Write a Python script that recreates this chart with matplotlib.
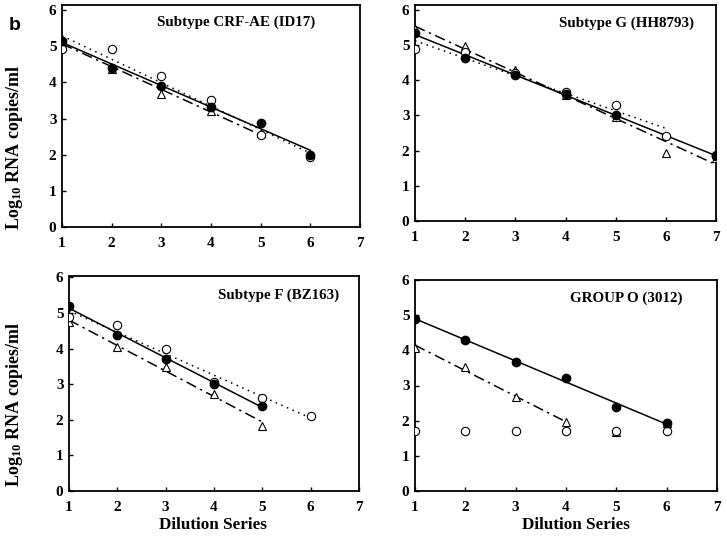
import numpy as np
import matplotlib
matplotlib.use("Agg")
import matplotlib.pyplot as plt

plt.rcParams['font.family'] = ['Liberation Serif', 'DejaVu Serif']
plt.rcParams['font.weight'] = 'bold'
plt.rcParams['mathtext.fontset'] = 'custom'
plt.rcParams['mathtext.rm'] = 'Liberation Serif:bold'
plt.rcParams['mathtext.default'] = 'rm'

# ---- data ----
titles = ["Subtype CRF-AE (ID17)", "Subtype G (HH8793)", "Subtype F (BZ163)", "GROUP O (3012)"]

# filled circles
ae_filled_x = [1, 2, 3, 4, 5, 6]
ae_filled_y = [5.15, 4.41, 3.90, 3.33, 2.89, 2.00]
g_filled_x = [1, 2, 3, 4, 5, 7]
g_filled_y = [5.35, 4.63, 4.15, 3.62, 3.02, 1.84]
f_filled_x = [1, 2, 3, 4, 5]
f_filled_y = [5.20, 4.39, 3.70, 3.02, 2.40]
o_filled_x = [1, 2, 3, 4, 5, 6]
o_filled_y = [4.89, 4.29, 3.68, 3.21, 2.40, 1.92]

# open circles
ae_open_x = [1, 2, 3, 4, 5, 6]
ae_open_y = [4.92, 4.92, 4.17, 3.50, 2.54, 1.94]
g_open_x = [1, 2, 3, 4, 5, 6, 7]
g_open_y = [4.90, 4.79, 4.20, 3.66, 3.31, 2.41, 1.89]
f_open_x = [1, 2, 3, 4, 5, 6]
f_open_y = [4.90, 4.67, 3.98, 3.07, 2.61, 2.10]
o_open_x = [1, 2, 3, 4, 5, 6]
o_open_y = [1.71, 1.71, 1.71, 1.71, 1.71, 1.71]

# open triangles
ae_tri_x = [1, 2, 3, 4, 5]
ae_tri_y = [5.16, 4.38, 3.68, 3.21, 2.60]
g_tri_x = [1, 2, 3, 4, 5, 6, 7]
g_tri_y = [5.45, 4.98, 4.29, 3.57, 2.96, 1.94, 1.80]
f_tri_x = [1, 2, 3, 4, 5]
f_tri_y = [4.76, 4.04, 3.49, 2.72, 1.84]
o_tri_x = [1, 2, 3, 4, 5, 6]
o_tri_y = [4.08, 3.54, 2.66, 1.95, 1.69, 1.92]

# how many leading points each regression line uses (0 = no line)
ae_fit = (6, 6, 5)   # filled, open, triangle
g_fit = (6, 6, 7)
f_fit = (5, 6, 5)
o_fit = (6, 0, 4)

panels = [
    (ae_filled_x, ae_filled_y, ae_open_x, ae_open_y, ae_tri_x, ae_tri_y, ae_fit),
    (g_filled_x, g_filled_y, g_open_x, g_open_y, g_tri_x, g_tri_y, g_fit),
    (f_filled_x, f_filled_y, f_open_x, f_open_y, f_tri_x, f_tri_y, f_fit),
    (o_filled_x, o_filled_y, o_open_x, o_open_y, o_tri_x, o_tri_y, o_fit),
]

W, H = 727, 545
fig = plt.figure(figsize=(W / 100, H / 100), dpi=100)

# axes boxes in pixels: left, top, right, bottom, ymax
boxes = [(62, 5, 360, 227, 6.14), (415, 5, 716, 221, 6.14),
         (69, 276, 359, 491, 6.04), (415, 280, 717, 491, 6.0)]
title_pos = [(0.584, 0.923), (0.704, 0.917), (0.724, 0.912), (0.699, 0.915)]

line_styles = ['-', (0, (1, 3)), (0, (7, 3, 1.5, 3))]

for i, (box, data) in enumerate(zip(boxes, panels)):
    l, t, r, b, ymax = box
    ax = fig.add_axes([l / W, 1 - b / H, (r - l) / W, (b - t) / H])
    fx, fy, ox, oy, tx, ty, fits = data
    series = [(fx, fy), (ox, oy), (tx, ty)]
    for (sx, sy), n, ls in zip(series, fits, line_styles):
        if n < 2:
            continue
        k, c = np.polyfit(sx[:n], sy[:n], 1)
        xx = np.array([sx[0], sx[n - 1]])
        ax.plot(xx, k * xx + c, color='black', lw=1.1, linestyle=ls, zorder=2)
    ax.plot(tx, ty, linestyle='none', marker='^', ms=5.5, mfc='white', mec='black', mew=0.8, zorder=3)
    ax.plot(ox, oy, linestyle='none', marker='o', ms=6, mfc='white', mec='black', mew=0.8, zorder=4)
    ax.plot(fx, fy, linestyle='none', marker='o', ms=6, mfc='black', mec='black', zorder=5)

    ax.set_xlim(1, 7)
    ax.set_ylim(0, ymax)
    ax.set_xticks(range(1, 8))
    ax.set_yticks(range(0, 7))
    ax.tick_params(direction='in', length=3, width=1, labelsize=11)
    ax.tick_params(axis='x', pad=7)
    ax.tick_params(axis='y', pad=4)
    for s in ax.spines.values():
        s.set_linewidth(1.3)
    ax.text(title_pos[i][0], title_pos[i][1], titles[i], transform=ax.transAxes,
            ha='center', va='center', fontsize=10.8, fontweight='bold')

ylab = 'Log$_{10}$ RNA copies/ml'
fig.text(15 / W, 1 - 148 / H, ylab, rotation=90, ha='center', va='center', fontsize=13, fontweight='bold')
fig.text(15 / W, 1 - 405 / H, ylab, rotation=90, ha='center', va='center', fontsize=13, fontweight='bold')
fig.text(213 / W, 1 - 525 / H, 'Dilution Series', ha='center', va='center', fontsize=12.3, fontweight='bold')
fig.text(576 / W, 1 - 525 / H, 'Dilution Series', ha='center', va='center', fontsize=12.3, fontweight='bold')
fig.text(15 / W, 1 - 26 / H, 'b', ha='center', va='center', fontsize=14, fontweight='bold',
         family=['Liberation Sans', 'DejaVu Sans'])

fig.savefig('out.png', dpi=100)
